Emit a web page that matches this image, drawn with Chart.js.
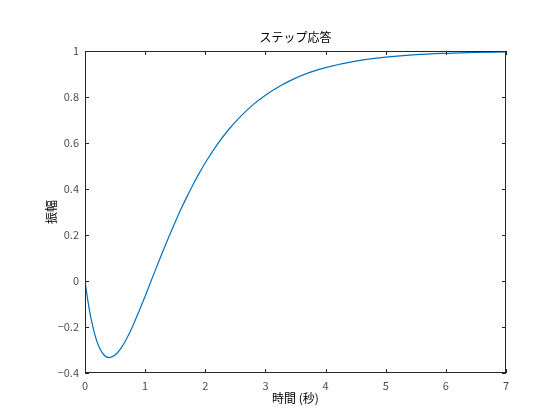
<!DOCTYPE html>
<html>
<head>
<meta charset="utf-8">
<script src="https://cdn.jsdelivr.net/npm/chart.js@4/dist/chart.umd.min.js"></script>
<style>
  html, body { margin: 0; padding: 0; background: #fff; }
  canvas { display: block; }
</style>
</head>
<body>
<canvas id="stepChart" width="560" height="420"></canvas>
<script>
// time (s) and amplitude
const times = [0, 0.05, 0.1, 0.15, 0.2, 0.3, 0.4, 0.5, 0.6, 0.7, 0.8, 0.9, 1.0, 1.1, 1.2, 1.3, 1.4, 1.5, 1.6, 1.7, 1.8, 1.9, 2.0,
               2.2, 2.4, 2.6, 2.8, 3.0, 3.25, 3.5, 3.75, 4.0, 4.5, 5.0, 5.5, 6.0, 6.5, 7.0];
const amplitude = [0, -0.090, -0.163, -0.220, -0.264, -0.317, -0.333, -0.322, -0.292, -0.247, -0.192, -0.130, -0.066, 0.001,
                   0.067, 0.133, 0.196, 0.257, 0.315, 0.369, 0.421, 0.469, 0.514,
                   0.594, 0.662, 0.719, 0.768, 0.808, 0.849, 0.882, 0.908, 0.928, 0.956, 0.973, 0.984, 0.990, 0.994, 0.996];
const steadyTimes = [0, 7];
const steadyValue = [1, 1];

const title = "ステップ応答";
const xLabel = "時間 (秒)";
const yLabel = "振幅";

const font = "'Noto Sans CJK JP', 'Noto Sans', sans-serif";
const axisColor = "#262626";

// box round the axes with inward ticks on all four sides, plus the title over the plot area
const boxPlugin = {
    id: "box",
    afterDraw(c){
        const {ctx, chartArea:a, scales:{x, y}} = c;
        const tl = 4;
        ctx.save();
        ctx.strokeStyle = axisColor;
        ctx.lineWidth = 1;
        ctx.strokeRect(Math.round(a.left)+0.5, Math.round(a.top)+0.5, Math.round(a.width)-1, Math.round(a.height)-1);
        ctx.beginPath();
        x.ticks.forEach(t => {
            const px = Math.round(x.getPixelForValue(t.value)) + 0.5;
            ctx.moveTo(px, a.bottom); ctx.lineTo(px, a.bottom - tl);
            ctx.moveTo(px, a.top); ctx.lineTo(px, a.top + tl);
        });
        y.ticks.forEach(t => {
            const py = Math.round(y.getPixelForValue(t.value)) + 0.5;
            ctx.moveTo(a.left, py); ctx.lineTo(a.left + tl, py);
            ctx.moveTo(a.right, py); ctx.lineTo(a.right - tl, py);
        });
        ctx.stroke();

        ctx.fillStyle = "#000000";
        ctx.font = "12px " + font;
        ctx.textAlign = "center";
        ctx.textBaseline = "middle";
        ctx.fillText(title, (a.left + a.right) / 2, 37);
        ctx.restore();
    }
};

const fmt = v => {
    const s = String(parseFloat(Number(v).toFixed(1)));
    return s.replace("-", "\u2212");
};

new Chart(document.getElementById("stepChart"), {
    type: "line",
    data: {
        datasets: [
            {
                data: times.map((t, i) => ({x: t, y: amplitude[i]})),
                borderColor: "#0072bd",
                borderWidth: 1.2,
                pointRadius: 0,
                cubicInterpolationMode: "monotone",
                fill: false
            },
            {
                data: steadyTimes.map((t, i) => ({x: t, y: steadyValue[i]})),
                borderColor: "#000000",
                borderWidth: 1,
                borderDash: [1, 2],
                pointRadius: 0,
                fill: false
            }
        ]
    },
    options: {
        responsive: false,
        animation: false,
        devicePixelRatio: 1,
        layout: {padding: {left: 0, right: 54, top: 51, bottom: 0}},
        plugins: {
            legend: {display: false},
            tooltip: {enabled: false},
            title: {display: false}
        },
        scales: {
            x: {
                type: "linear",
                min: 0,
                max: 7,
                grid: {display: false, drawTicks: false, tickLength: 0},
                border: {display: false},
                ticks: {
                    stepSize: 1,
                    color: "#4d4d4d",
                    padding: 6,
                    maxRotation: 0,
                    font: {family: font, size: 11},
                    callback: fmt
                },
                title: {
                    display: true,
                    text: xLabel,
                    color: "#000000",
                    font: {family: font, size: 12, lineHeight: 1.2},
                    padding: {top: 0, bottom: 14}
                },
                afterFit(s){ s.height = 47; }
            },
            y: {
                min: -0.4,
                max: 1,
                grid: {display: false, drawTicks: false, tickLength: 0},
                border: {display: false},
                ticks: {
                    stepSize: 0.2,
                    color: "#4d4d4d",
                    padding: 6,
                    font: {family: font, size: 11},
                    callback: fmt
                },
                title: {
                    display: true,
                    text: yLabel,
                    color: "#000000",
                    font: {family: font, size: 12, lineHeight: 1.2},
                    padding: {top: 44, bottom: 0}
                },
                afterFit(s){ s.width = 85; }
            }
        }
    },
    plugins: [boxPlugin]
});
</script>
</body>
</html>
